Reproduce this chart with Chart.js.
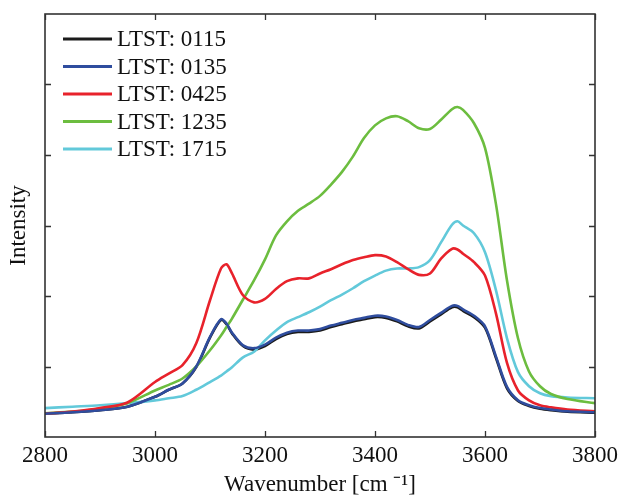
<!DOCTYPE html>
<html>
<head>
<meta charset="utf-8">
<script src="https://cdn.jsdelivr.net/npm/chart.js@4.4.0/dist/chart.umd.min.js"></script>
<style>
  html, body { margin: 0; padding: 0; background: #fff; }
  #wrap { width: 620px; height: 498px; }
</style>
</head>
<body>
<div id="wrap"><canvas id="chart" width="620" height="498"></canvas></div>
<script>
// wavenumber grid (cm-1)
const wavenumbers = [2800, 2850, 2900, 2950, 3000, 3025, 3050, 3075, 3100, 3120, 3130, 3140, 3160, 3180,
  3200, 3220, 3240, 3260, 3280, 3300, 3320, 3340, 3360, 3380, 3400, 3420, 3440, 3460, 3480, 3500,
  3520, 3540, 3550, 3560, 3580, 3600, 3620, 3640, 3660, 3680, 3700, 3720, 3750, 3800];

// intensity values (arbitrary units)
const ltst0115 = [0.33, 0.35, 0.38, 0.43, 0.57, 0.67, 0.76, 0.99, 1.41, 1.66, 1.60, 1.47, 1.29, 1.24,
  1.29, 1.39, 1.46, 1.49, 1.49, 1.51, 1.56, 1.60, 1.64, 1.67, 1.70, 1.69, 1.64, 1.57, 1.54, 1.64,
  1.74, 1.84, 1.84, 1.79, 1.70, 1.55, 1.12, 0.69, 0.51, 0.44, 0.40, 0.38, 0.36, 0.345];
const ltst0135 = [0.33, 0.35, 0.38, 0.43, 0.57, 0.67, 0.76, 1.00, 1.42, 1.67, 1.61, 1.48, 1.30, 1.26,
  1.31, 1.41, 1.48, 1.51, 1.51, 1.53, 1.58, 1.62, 1.66, 1.69, 1.72, 1.71, 1.66, 1.59, 1.56, 1.66,
  1.76, 1.86, 1.86, 1.81, 1.72, 1.57, 1.14, 0.71, 0.52, 0.45, 0.41, 0.39, 0.365, 0.35];
const ltst0425 = [0.33, 0.36, 0.41, 0.49, 0.78, 0.90, 1.02, 1.33, 1.94, 2.39, 2.45, 2.32, 2.01, 1.91,
  1.96, 2.10, 2.21, 2.25, 2.25, 2.32, 2.38, 2.45, 2.51, 2.55, 2.58, 2.56, 2.48, 2.38, 2.30, 2.32,
  2.53, 2.67, 2.66, 2.60, 2.48, 2.29, 1.75, 1.05, 0.66, 0.52, 0.45, 0.42, 0.39, 0.365];
const ltst1235 = [0.335, 0.36, 0.40, 0.48, 0.66, 0.74, 0.83, 1.00, 1.23, 1.44, 1.56, 1.68, 1.95, 2.22,
  2.52, 2.86, 3.06, 3.21, 3.31, 3.42, 3.58, 3.76, 3.98, 4.24, 4.42, 4.52, 4.55, 4.48, 4.38, 4.37,
  4.50, 4.65, 4.68, 4.64, 4.45, 4.10, 3.30, 2.22, 1.40, 0.93, 0.72, 0.61, 0.54, 0.48];
const ltst1715 = [0.41, 0.43, 0.45, 0.48, 0.52, 0.55, 0.58, 0.67, 0.78, 0.87, 0.93, 0.99, 1.13, 1.21,
  1.37, 1.51, 1.63, 1.70, 1.77, 1.85, 1.94, 2.02, 2.11, 2.21, 2.29, 2.36, 2.39, 2.39, 2.41, 2.51,
  2.76, 3.01, 3.06, 3.00, 2.89, 2.62, 2.08, 1.40, 0.92, 0.72, 0.62, 0.58, 0.56, 0.55];

const seriesLabels = ['LTST: 0115', 'LTST: 0135', 'LTST: 0425', 'LTST: 1235', 'LTST: 1715'];
const seriesColors = ['#1b1b1b', '#2f4d9e', '#e8222b', '#6cbd3f', '#62c9da'];
const seriesValues = [ltst0115, ltst0135, ltst0425, ltst1235, ltst1715];

const xTicks = [2800, 3000, 3200, 3400, 3600, 3800];
const yTicks = [1, 2, 3, 4, 5];

const FONT = '"Liberation Serif", "Times New Roman", serif';

function toPoints(values) {
  return wavenumbers.map((w, i) => ({ x: w, y: values[i] }));
}

// box frame, inward tick marks and legend inside the plot
const framePlugin = {
  id: 'frame',
  afterDatasetsDraw(chart) {
    const { ctx, chartArea: a, scales } = chart;
    ctx.save();
    ctx.strokeStyle = '#333';
    ctx.lineWidth = 1.3;
    ctx.beginPath();
    xTicks.forEach(v => {
      const px = Math.round(scales.x.getPixelForValue(v)) + 0.5;
      ctx.moveTo(px, a.bottom); ctx.lineTo(px, a.bottom - 6);
      ctx.moveTo(px, a.top); ctx.lineTo(px, a.top + 6);
    });
    yTicks.forEach(v => {
      const py = Math.round(scales.y.getPixelForValue(v)) + 0.5;
      ctx.moveTo(a.left, py); ctx.lineTo(a.left + 6, py);
      ctx.moveTo(a.right, py); ctx.lineTo(a.right - 6, py);
    });
    ctx.stroke();
    ctx.lineWidth = 1.6;
    ctx.strokeRect(a.left, a.top, a.right - a.left, a.bottom - a.top);

    // legend
    ctx.font = '23px ' + FONT;
    ctx.textBaseline = 'middle';
    ctx.fillStyle = '#111';
    chart.data.datasets.forEach((ds, i) => {
      const y = a.top + 25 + i * 27.5;
      ctx.strokeStyle = ds.borderColor;
      ctx.lineWidth = 3;
      ctx.beginPath();
      ctx.moveTo(a.left + 18, y);
      ctx.lineTo(a.left + 67, y);
      ctx.stroke();
      ctx.fillText(ds.label, a.left + 72, y + 1);
    });
    ctx.restore();
  }
};

const datasets = seriesLabels.map((label, i) => ({
  label: label,
  data: toPoints(seriesValues[i]),
  borderColor: seriesColors[i],
  borderWidth: 2.6,
  pointRadius: 0,
  fill: false,
  tension: 0.3,
  order: i === 0 ? 2 : 1
}));

new Chart(document.getElementById('chart'), {
  type: 'line',
  data: { datasets: datasets },
  options: {
    responsive: false,
    animation: false,
    layout: { padding: { top: 14, right: 25, left: 0, bottom: 0 } },
    plugins: {
      legend: { display: false },
      tooltip: { enabled: false }
    },
    scales: {
      x: {
        type: 'linear',
        min: 2800,
        max: 3800,
        afterBuildTicks: s => { s.ticks = xTicks.map(v => ({ value: v })); },
        afterFit: s => { s.height = 61; s.paddingLeft = 0; s.paddingRight = 0; },
        grid: { display: false, drawTicks: false },
        border: { display: false },
        ticks: {
          color: '#111',
          padding: 5,
          autoSkip: false,
          maxRotation: 0,
          font: { family: FONT, size: 23 },
          callback: v => String(v)
        },
        title: {
          display: true,
          text: 'Wavenumber [cm \u207B\u00B9]',
          color: '#111',
          font: { family: FONT, size: 23, lineHeight: 1 },
          padding: { top: 0, bottom: 1.5 }
        }
      },
      y: {
        type: 'linear',
        min: 0,
        max: 6,
        afterFit: s => { s.width = 45; },
        grid: { display: false, drawTicks: false },
        border: { display: false },
        ticks: { display: false },
        title: {
          display: true,
          text: 'Intensity',
          color: '#111',
          font: { family: FONT, size: 23, lineHeight: 1 },
          padding: { top: 7, bottom: 0 }
        }
      }
    }
  },
  plugins: [framePlugin]
});
</script>
</body>
</html>
